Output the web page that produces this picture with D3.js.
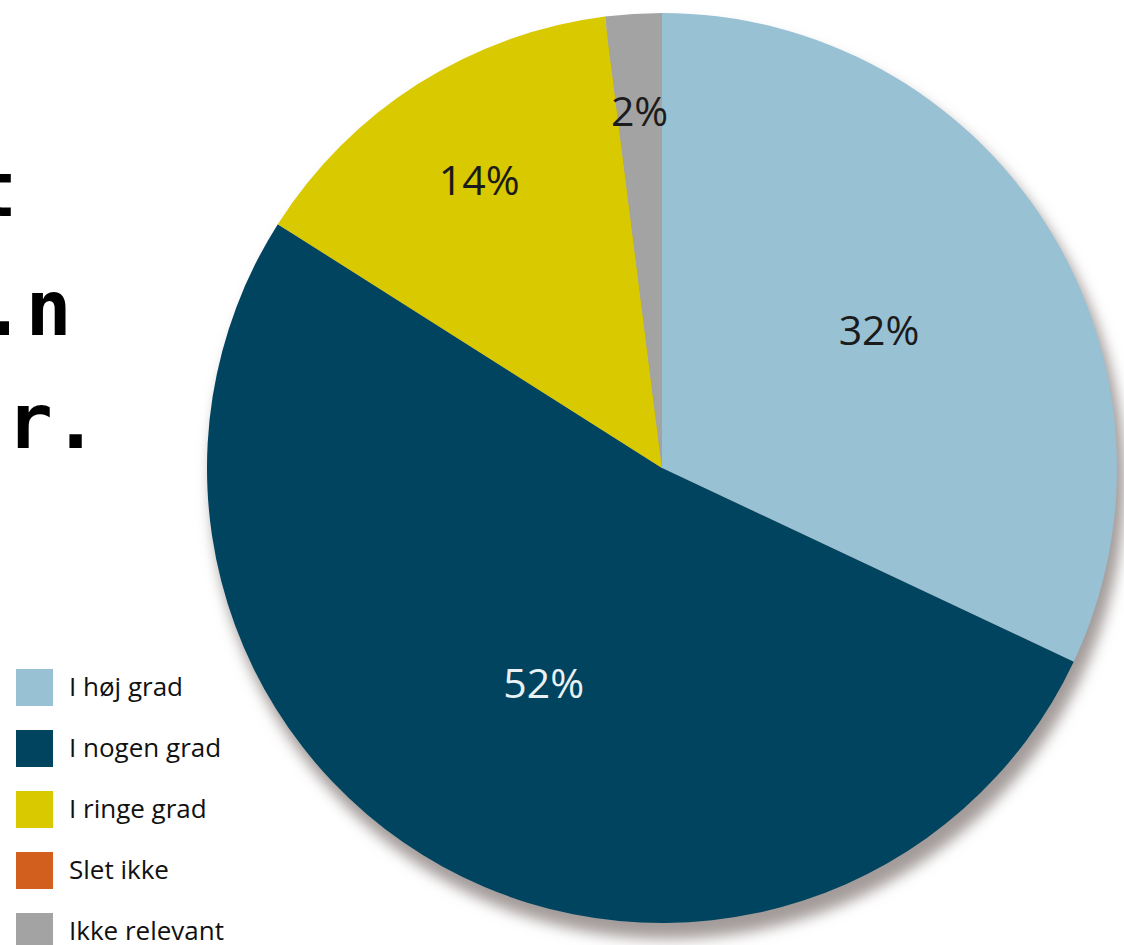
<!DOCTYPE html>
<html>
<head>
<meta charset="utf-8">
<script src="https://cdn.jsdelivr.net/npm/d3@7"></script>
<style>
  html, body { margin: 0; padding: 0; background: #ffffff; }
  svg { display: block; }
</style>
</head>
<body>
<svg id="chart" width="1124" height="945"></svg>
<script>
// ---- data ----
const categories = ["I høj grad", "I nogen grad", "I ringe grad", "Slet ikke", "Ikke relevant"];
const values = [32, 52, 14, 0, 2];
const colors = ["#98c1d4", "#00445f", "#d8c900", "#d35f1e", "#a3a3a3"];
const labelColors = ["#1b1b1b", "#e9f1f5", "#1b1b1b", "#1b1b1b", "#1b1b1b"];
const sideText = ["t", ".n", "r."];

// ---- layout ----
const W = 1124, H = 945;
const cx = 662, cy = 468, R = 455;
const labelRadiusFrac = [0.565, 0.54, 0.75, 0, 0.785];

const svg = d3.select("#chart");

// drop shadow
const defs = svg.append("defs");
const f = defs.append("filter").attr("id", "blur").attr("x", "-20%").attr("y", "-20%").attr("width", "140%").attr("height", "140%");
f.append("feGaussianBlur").attr("stdDeviation", 7);

svg.append("circle")
  .attr("cx", cx + 6).attr("cy", cy + 14).attr("r", R + 2)
  .attr("fill", "#a39b9a")
  .attr("filter", "url(#blur)");

// side text fragments
svg.append("g").selectAll("text").data(sideText).join("text")
  .attr("x", (d, i) => [-29, -20, 7][i])
  .attr("y", (d, i) => [216, 335, 448][i])
  .attr("font-family", "DejaVu Sans Mono, monospace")
  .attr("font-size", 76)
  .attr("font-weight", "bold")
  .attr("fill", "#000")
  .text(d => d);

// pie
const data = categories.map((c, i) => ({ cat: c, value: values[i], color: colors[i], lc: labelColors[i], lr: labelRadiusFrac[i] }));
const pie = d3.pie().value(d => d.value).sort(null);
const arcs = pie(data);
const arc = d3.arc().innerRadius(0).outerRadius(R);

const g = svg.append("g").attr("transform", `translate(${cx},${cy})`);
g.selectAll("path").data(arcs.filter(a => a.data.value > 0)).join("path")
  .attr("d", arc)
  .attr("fill", d => d.data.color);

g.selectAll("text.lbl").data(arcs.filter(a => a.data.value > 0)).join("text")
  .attr("class", "lbl")
  .attr("transform", d => {
    const r = R * d.data.lr;
    const c = d3.arc().innerRadius(r).outerRadius(r).centroid(d);
    return `translate(${c[0]},${c[1]})`;
  })
  .attr("text-anchor", "middle")
  .attr("dy", "0.36em")
  .attr("font-family", "Open Sans, sans-serif")
  .attr("font-size", 41)
  .attr("fill", d => d.data.lc)
  .text(d => d.data.value + "%");

// legend
const lg = svg.append("g").attr("transform", "translate(16,669)");
const item = lg.selectAll("g").data(data).join("g")
  .attr("transform", (d, i) => `translate(0,${i * 61})`);
item.append("rect").attr("width", 37).attr("height", 37).attr("fill", d => d.color);
item.append("text")
  .attr("x", 53).attr("y", 17.5).attr("dy", "0.36em")
  .attr("font-family", "Open Sans, sans-serif")
  .attr("font-size", 26)
  .attr("fill", "#111")
  .text(d => d.cat);
</script>
</body>
</html>
